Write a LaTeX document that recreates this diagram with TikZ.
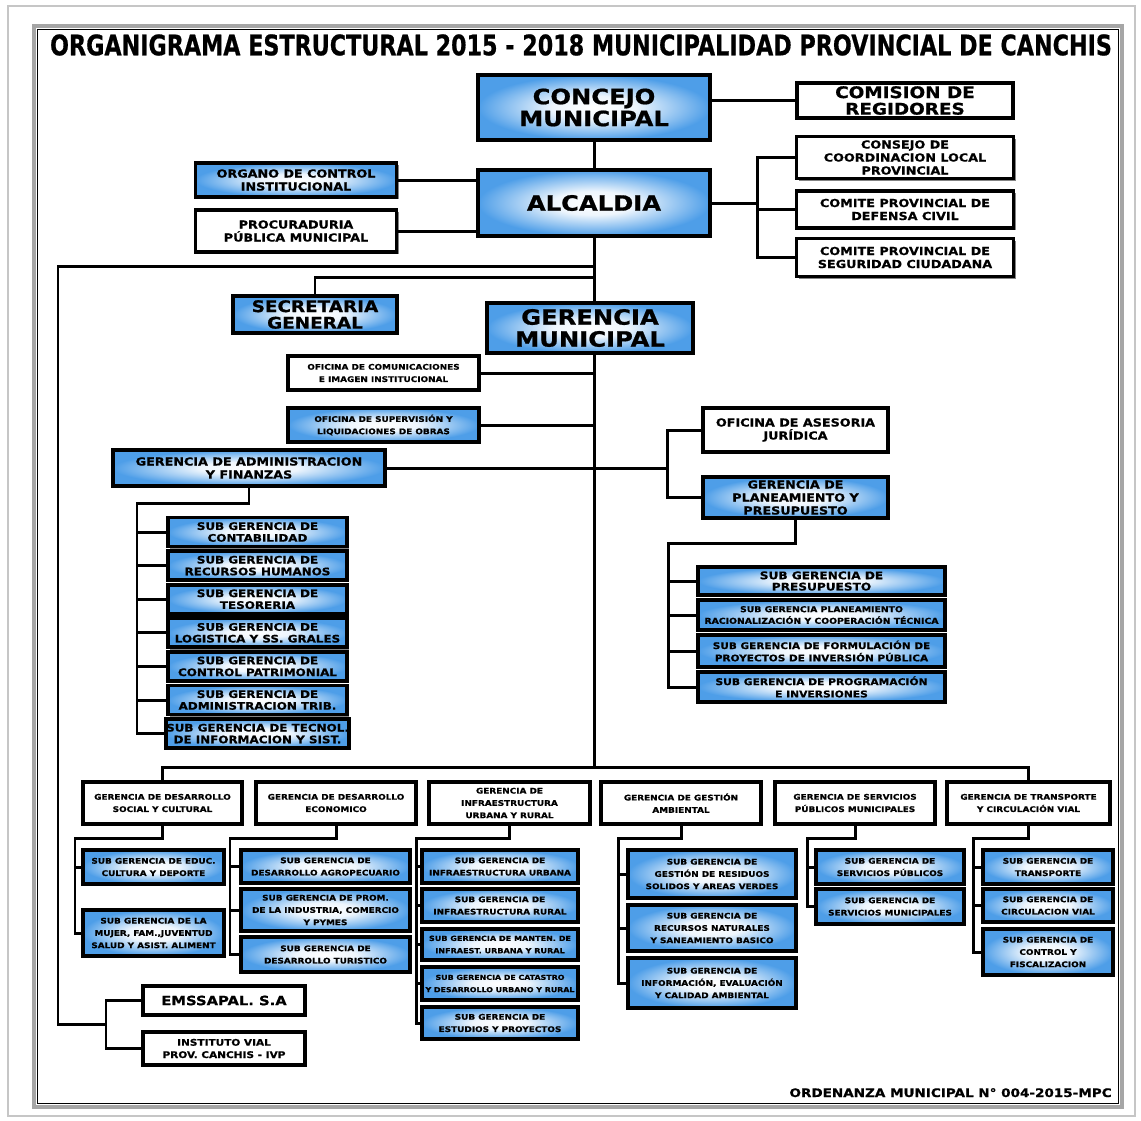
\documentclass[tikz,border=0pt]{standalone}
\usepackage{fontspec}
\setmainfont{DejaVu Sans}[FakeStretch=1.15,BoldFeatures={FakeBold=0.8}]
\usetikzlibrary{shadows}
\definecolor{boxblue}{RGB}{78,158,232}
\pgfdeclareradialshading{boxshade}{\pgfpoint{0bp}{0bp}}{color(0bp)=(white);
  color(9bp)=(white!90!boxblue); color(25bp)=(boxblue); color(50bp)=(boxblue)}
\newcommand{\fs}[2]{\bfseries\fontsize{#1pt}{#2pt}\selectfont}
\tikzset{
  org box/.style={
    draw,
    line width=2.2pt,
    rectangle,
    inner sep=0pt,
    align=center,
    drop shadow={shadow xshift=1.3pt,shadow yshift=-1.3pt,fill=black!60,opacity=0.8}
  },
  blue box/.style={org box,shading=boxshade},
  white box/.style={org box,fill=white},
  wh/.style 2 args={minimum width=#1*0.02cm,minimum height=#2*0.02cm},
  link/.style={line width=1.7pt},
  head text/.style={font=\fs{12}{12.5}},
  mid text/.style={font=\fs{9.1}{9.4}},
  small text/.style={font=\fs{6.3}{7.4}},
  sub text/.style={font=\fs{5.9}{6.7}},
  tiny text/.style={font=\fs{4.4}{7}}
}

\begin{document}
\begin{tikzpicture}[x=0.02cm,y=-0.02cm]
\useasboundingbox (0,0) rectangle (1141,1120);
\fill[white] (0,0) rectangle (1141,1120);
% frame
\draw[gray!45,line width=1pt] (8,6) rectangle (1135,1116);
\draw[gray!70,line width=2pt] (34,26) rectangle (1122,1107);
\draw[black,line width=0.6pt] (37.5,29.5) rectangle (1118.5,1103.5);
\node (title) at (581,45) {\resizebox{21.24cm}{0.42cm}{\bfseries\addfontfeature{FakeBold=2.5}ORGANIGRAMA ESTRUCTURAL 2015 - 2018 MUNICIPALIDAD PROVINCIAL DE CANCHIS}};

% alta direccion
\node[blue box,head text,wh={232}{65}] (concejo) at (594,107.5) {CONCEJO\\MUNICIPAL};
\node[white box,mid text,wh={216}{35}] (comision) at (905,100.5) {COMISION DE\\REGIDORES};
\node[blue box,head text,wh={232}{66}] (alc) at (594,203) {ALCALDIA};
\node[blue box,small text,wh={201}{34}] (organo) at (296,180) {ORGANO DE CONTROL\\INSTITUCIONAL};
\node[white box,small text,wh={201}{42}] (procur) at (296,231) {PROCURADURIA\\PÚBLICA MUNICIPAL};
\node[white box,small text,wh={217}{42}] (consejo) at (905,157.5) {CONSEJO DE\\COORDINACION LOCAL\\PROVINCIAL};
\node[white box,small text,wh={217}{37}] (defensa) at (905,209.5) {COMITE PROVINCIAL DE\\DEFENSA CIVIL};
\node[white box,small text,wh={217}{38}] (seguridad) at (905,257.5) {COMITE PROVINCIAL DE\\SEGURIDAD CIUDADANA};
\node[blue box,mid text,wh={164}{37}] (secre) at (315,314.5) {SECRETARIA\\GENERAL};
\node[blue box,head text,wh={206}{50}] (gm) at (590,328) {GERENCIA\\MUNICIPAL};
\node[white box,tiny text,wh={191}{34}] (ofcom) at (383.5,373) {OFICINA DE COMUNICACIONES\\E IMAGEN INSTITUCIONAL};
\node[blue box,tiny text,wh={191}{34}] (ofsup) at (383.5,425) {OFICINA DE SUPERVISIÓN Y\\LIQUIDACIONES DE OBRAS};
\node[blue box,small text,wh={272}{36}] (admin) at (249,468) {GERENCIA DE ADMINISTRACION\\Y FINANZAS};
\node[white box,small text,wh={185}{44}] (asesoria) at (795.5,430) {OFICINA DE ASESORIA\\JURÍDICA};
\node[blue box,small text,wh={185}{41}] (gplan) at (795.5,497.5) {GERENCIA DE\\PLANEAMIENTO Y\\PRESUPUESTO};

% sub gerencias de administracion
\foreach \txt [count=\i] in {{SUB GERENCIA DE\\CONTABILIDAD},{SUB GERENCIA DE\\RECURSOS HUMANOS},
    {SUB GERENCIA DE\\TESORERIA},{SUB GERENCIA DE\\LOGISTICA Y SS. GRALES},
    {SUB GERENCIA DE\\CONTROL PATRIMONIAL},{SUB GERENCIA DE\\ADMINISTRACION TRIB.},
    {SUB GERENCIA DE TECNOL.\\DE INFORMACION Y SIST.}}
  \node[blue box,sub text,wh={179}{29}] (sa\i) at (257.5,{532+(\i-1)*33.6}) {\txt};

% sub gerencias de planeamiento
\node[blue box,font=\fs{6}{6.4},wh={247}{28}] (sgpres) at (821.5,581) {SUB GERENCIA DE\\PRESUPUESTO};
\node[blue box,font=\fs{4.6}{6.6},wh={247}{30}] (sgplan) at (821.5,615) {SUB GERENCIA PLANEAMIENTO\\RACIONALIZACIÓN Y COOPERACIÓN TÉCNICA};
\node[blue box,font=\fs{5.2}{7},wh={247}{32}] (sgform) at (821.5,651) {SUB GERENCIA DE FORMULACIÓN DE\\PROYECTOS DE INVERSIÓN PÚBLICA};
\node[blue box,font=\fs{5.3}{7},wh={247}{30}] (sgprog) at (821.5,687) {SUB GERENCIA DE PROGRAMACIÓN\\E INVERSIONES};

% gerencias de linea
\node[white box,tiny text,wh={159}{42}] (gds) at (162.5,803) {GERENCIA DE DESARROLLO\\SOCIAL Y CULTURAL};
\node[white box,tiny text,wh={160}{42}] (gde) at (336,803) {GERENCIA DE DESARROLLO\\ECONOMICO};
\node[white box,tiny text,wh={161}{42}] (gin) at (509.5,803) {GERENCIA DE\\INFRAESTRUCTURA\\URBANA Y RURAL};
\node[white box,tiny text,wh={160}{42}] (gga) at (681,803) {GERENCIA DE GESTIÓN\\AMBIENTAL};
\node[white box,tiny text,wh={160}{42}] (gsp) at (855,803) {GERENCIA DE SERVICIOS\\PÚBLICOS MUNICIPALES};
\node[white box,tiny text,wh={163}{42}] (gtc) at (1028.5,803) {GERENCIA DE TRANSPORTE\\Y CIRCULACIÓN VIAL};

\node[blue box,tiny text,wh={141}{34}] (sgedu) at (153.5,867) {SUB GERENCIA DE EDUC.\\CULTURA Y DEPORTE};
\node[blue box,tiny text,wh={141}{46}] (sgmuj) at (153.5,933) {SUB GERENCIA DE LA\\MUJER, FAM.,JUVENTUD\\SALUD Y ASIST. ALIMENT};

\node[blue box,tiny text,wh={169}{33}] (sgagro) at (325.5,866.5) {SUB GERENCIA DE\\DESARROLLO AGROPECUARIO};
\node[blue box,tiny text,wh={169}{42}] (sgprom) at (325.5,910) {SUB GERENCIA DE PROM.\\DE LA INDUSTRIA, COMERCIO\\Y PYMES};
\node[blue box,tiny text,wh={169}{35}] (sgtur) at (325.5,954.5) {SUB GERENCIA DE\\DESARROLLO TURISTICO};

\node[blue box,tiny text,wh={156}{33}] (sgiu) at (500,866.5) {SUB GERENCIA DE\\INFRAESTRUCTURA URBANA};
\node[blue box,tiny text,wh={156}{33}] (sgir) at (500,905.5) {SUB GERENCIA DE\\INFRAESTRUCTURA RURAL};
\node[blue box,font=\fs{4}{7},wh={156}{31}] (sgman) at (500,944.5) {SUB GERENCIA DE MANTEN. DE\\INFRAEST. URBANA Y RURAL};
\node[blue box,font=\fs{3.9}{7},wh={156}{33}] (sgcat) at (500,983.5) {SUB GERENCIA DE CATASTRO\\Y DESARROLLO URBANO Y RURAL};
\node[blue box,tiny text,wh={156}{32}] (sgest) at (500,1023) {SUB GERENCIA DE\\ESTUDIOS Y PROYECTOS};

\node[blue box,tiny text,wh={168}{48}] (sgres) at (712,874) {SUB GERENCIA DE\\GESTIÓN DE RESIDUOS\\SOLIDOS Y AREAS VERDES};
\node[blue box,tiny text,wh={168}{46}] (sgrec) at (712,928) {SUB GERENCIA DE\\RECURSOS NATURALES\\Y SANEAMIENTO BASICO};
\node[blue box,tiny text,wh={168}{50}] (sginf) at (712,983) {SUB GERENCIA DE\\INFORMACIÓN, EVALUACIÓN\\Y CALIDAD AMBIENTAL};

\node[blue box,tiny text,wh={148}{34}] (sgspub) at (890,867) {SUB GERENCIA DE\\SERVICIOS PÚBLICOS};
\node[blue box,tiny text,wh={148}{35}] (sgsmun) at (890,906.5) {SUB GERENCIA DE\\SERVICIOS MUNICIPALES};

\node[blue box,tiny text,wh={130}{34}] (sgtra) at (1048,867) {SUB GERENCIA DE\\TRANSPORTE};
\node[blue box,tiny text,wh={130}{33}] (sgcir) at (1048,905.5) {SUB GERENCIA DE\\CIRCULACION VIAL};
\node[blue box,tiny text,wh={130}{46}] (sgcon) at (1048,952) {SUB GERENCIA DE\\CONTROL Y\\FISCALIZACION};

% organismos
\node[white box,font=\fs{7.3}{8},wh={162}{29}] (emssapal) at (224,1000.5) {EMSSAPAL. S.A};
\node[white box,font=\fs{5.2}{7},wh={162}{33}] (ivp) at (224,1048.5) {INSTITUTO VIAL\\PROV. CANCHIS - IVP};

\node[font=\fs{6.7}{7},anchor=base east,inner sep=0pt] (ordenanza) at (1112,1097) {ORDENANZA MUNICIPAL N° 004-2015-MPC};

% connectors
\coordinate (rj) at (757,203);
\coordinate (lt) at (58,266);
\coordinate (lb) at (58,1024);
\coordinate (lj) at (106,1024);
\coordinate (ys) at (0,277);
\coordinate (jp) at (667,468);
\coordinate (pj) at (668,543);
\coordinate (aj) at (137,503);
\coordinate (bar) at (594,767);

\draw[link] (comision.west) -- (comision.west -| concejo.east);
\draw[link] (concejo.south) -- (alc.north);
\draw[link] (organo.east) -- (organo.east -| alc.west);
\draw[link] (procur.east) -- (procur.east -| alc.west);
\draw[link] (alc.east) -- (rj);
\draw[link] (consejo.west) -| (rj) |- (seguridad.west);
\draw[link] (defensa.west) -- (defensa.west -| rj);
\draw[link] (alc.south) -- (alc.south |- gm.north);
\draw[link] (alc.south |- gm.south) -- (bar);
\draw[link] (lt -| alc.south) -- (lt) -- (lb) -- (lj);
\draw[link] (emssapal.west) -| (lj) |- (ivp.west);
\draw[link] (secre.north) |- (ys -| alc.south);
\draw[link] (ofcom.east) -- (ofcom.east -| alc.south);
\draw[link] (ofsup.east) -- (ofsup.east -| alc.south);
\draw[link] (admin.east) -- (jp);
\draw[link] (asesoria.west) -| (jp) |- (gplan.west);
\draw[link] (gplan.south) |- (pj) |- (sgprog.west);
\foreach \n in {sgpres,sgplan,sgform}
  \draw[link] (\n.west) -- (\n.west -| pj);
\draw[link] (admin.south) |- (aj) |- (sa7.west);
\foreach \i in {1,...,6}
  \draw[link] (sa\i.west) -- (sa\i.west -| aj);
\draw[link] (gds.north) |- (bar -| gtc.north) -- (gtc.north);

\draw[link] (gds.south) |- (75,838) |- (sgmuj.west);
\draw[link] (sgedu.west) -- (sgedu.west -| 75,0);
\draw[link] (gde.south) |- (230,838) |- (sgtur.west);
\foreach \n in {sgagro,sgprom}
  \draw[link] (\n.west) -- (\n.west -| 230,0);
\draw[link] (gin.south) |- (416,838) |- (sgest.west);
\foreach \n in {sgiu,sgir,sgman,sgcat}
  \draw[link] (\n.west) -- (\n.west -| 416,0);
\draw[link] (gga.south) |- (618,838) |- (sginf.west);
\foreach \n in {sgres,sgrec}
  \draw[link] (\n.west) -- (\n.west -| 618,0);
\draw[link] (gsp.south) |- (807,838) |- (sgsmun.west);
\draw[link] (sgspub.west) -- (sgspub.west -| 807,0);
\draw[link] (gtc.south) |- (973,838) |- (sgcon.west);
\foreach \n in {sgtra,sgcir}
  \draw[link] (\n.west) -- (\n.west -| 973,0);
\end{tikzpicture}
\end{document}
